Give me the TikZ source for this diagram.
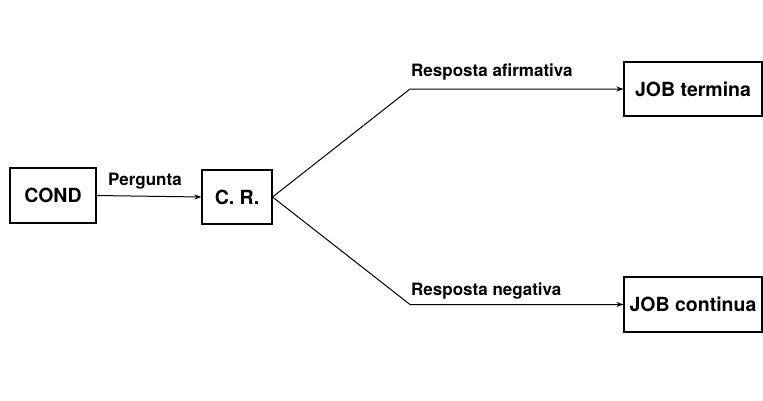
\documentclass[tikz,border=0pt]{standalone}
\usepackage{fontspec}
\setmainfont{TeX Gyre Heros}
\usetikzlibrary{arrows.meta}
\begin{document}
\begin{tikzpicture}[x=1pt,y=-1pt,
  box/.style={draw,line width=1.1pt,inner sep=0pt,font=\fontsize{19.5}{23}\selectfont\bfseries},
  lbl/.style={inner sep=0pt,anchor=base west,font=\fontsize{17}{20}\selectfont\bfseries},
  conn/.style={line width=1pt},
  arr/.style={conn,-{Stealth[length=7pt,width=5pt]}}]
\useasboundingbox (0,0) rectangle (763,400);
\node[box,minimum width=86pt,minimum height=55pt] (cond) at (53,195.5) {COND};
\node[box,minimum width=70pt,minimum height=54pt] (cr) at (237,197) {C. R.};
\node[box,minimum width=138pt,minimum height=54pt] (term) at (693,89) {JOB termina};
\node[box,minimum width=138pt,minimum height=55pt] (cont) at (693,304.5) {JOB continua};
\coordinate (ku) at (410,89);
\coordinate (kl) at (410,304.5);
\draw[arr] (cond.east) -- (cr.west);
\draw[arr] (cr.east) -- (ku) -- (term.west);
\draw[arr] (cr.east) -- (kl) -- (cont.west);
\node[lbl] (lp) at (108,185) {Pergunta};
\node[lbl] (la) at (411,76) {Resposta afirmativa};
\node[lbl] (ln) at (411,295) {Resposta negativa};
\end{tikzpicture}
\end{document}
